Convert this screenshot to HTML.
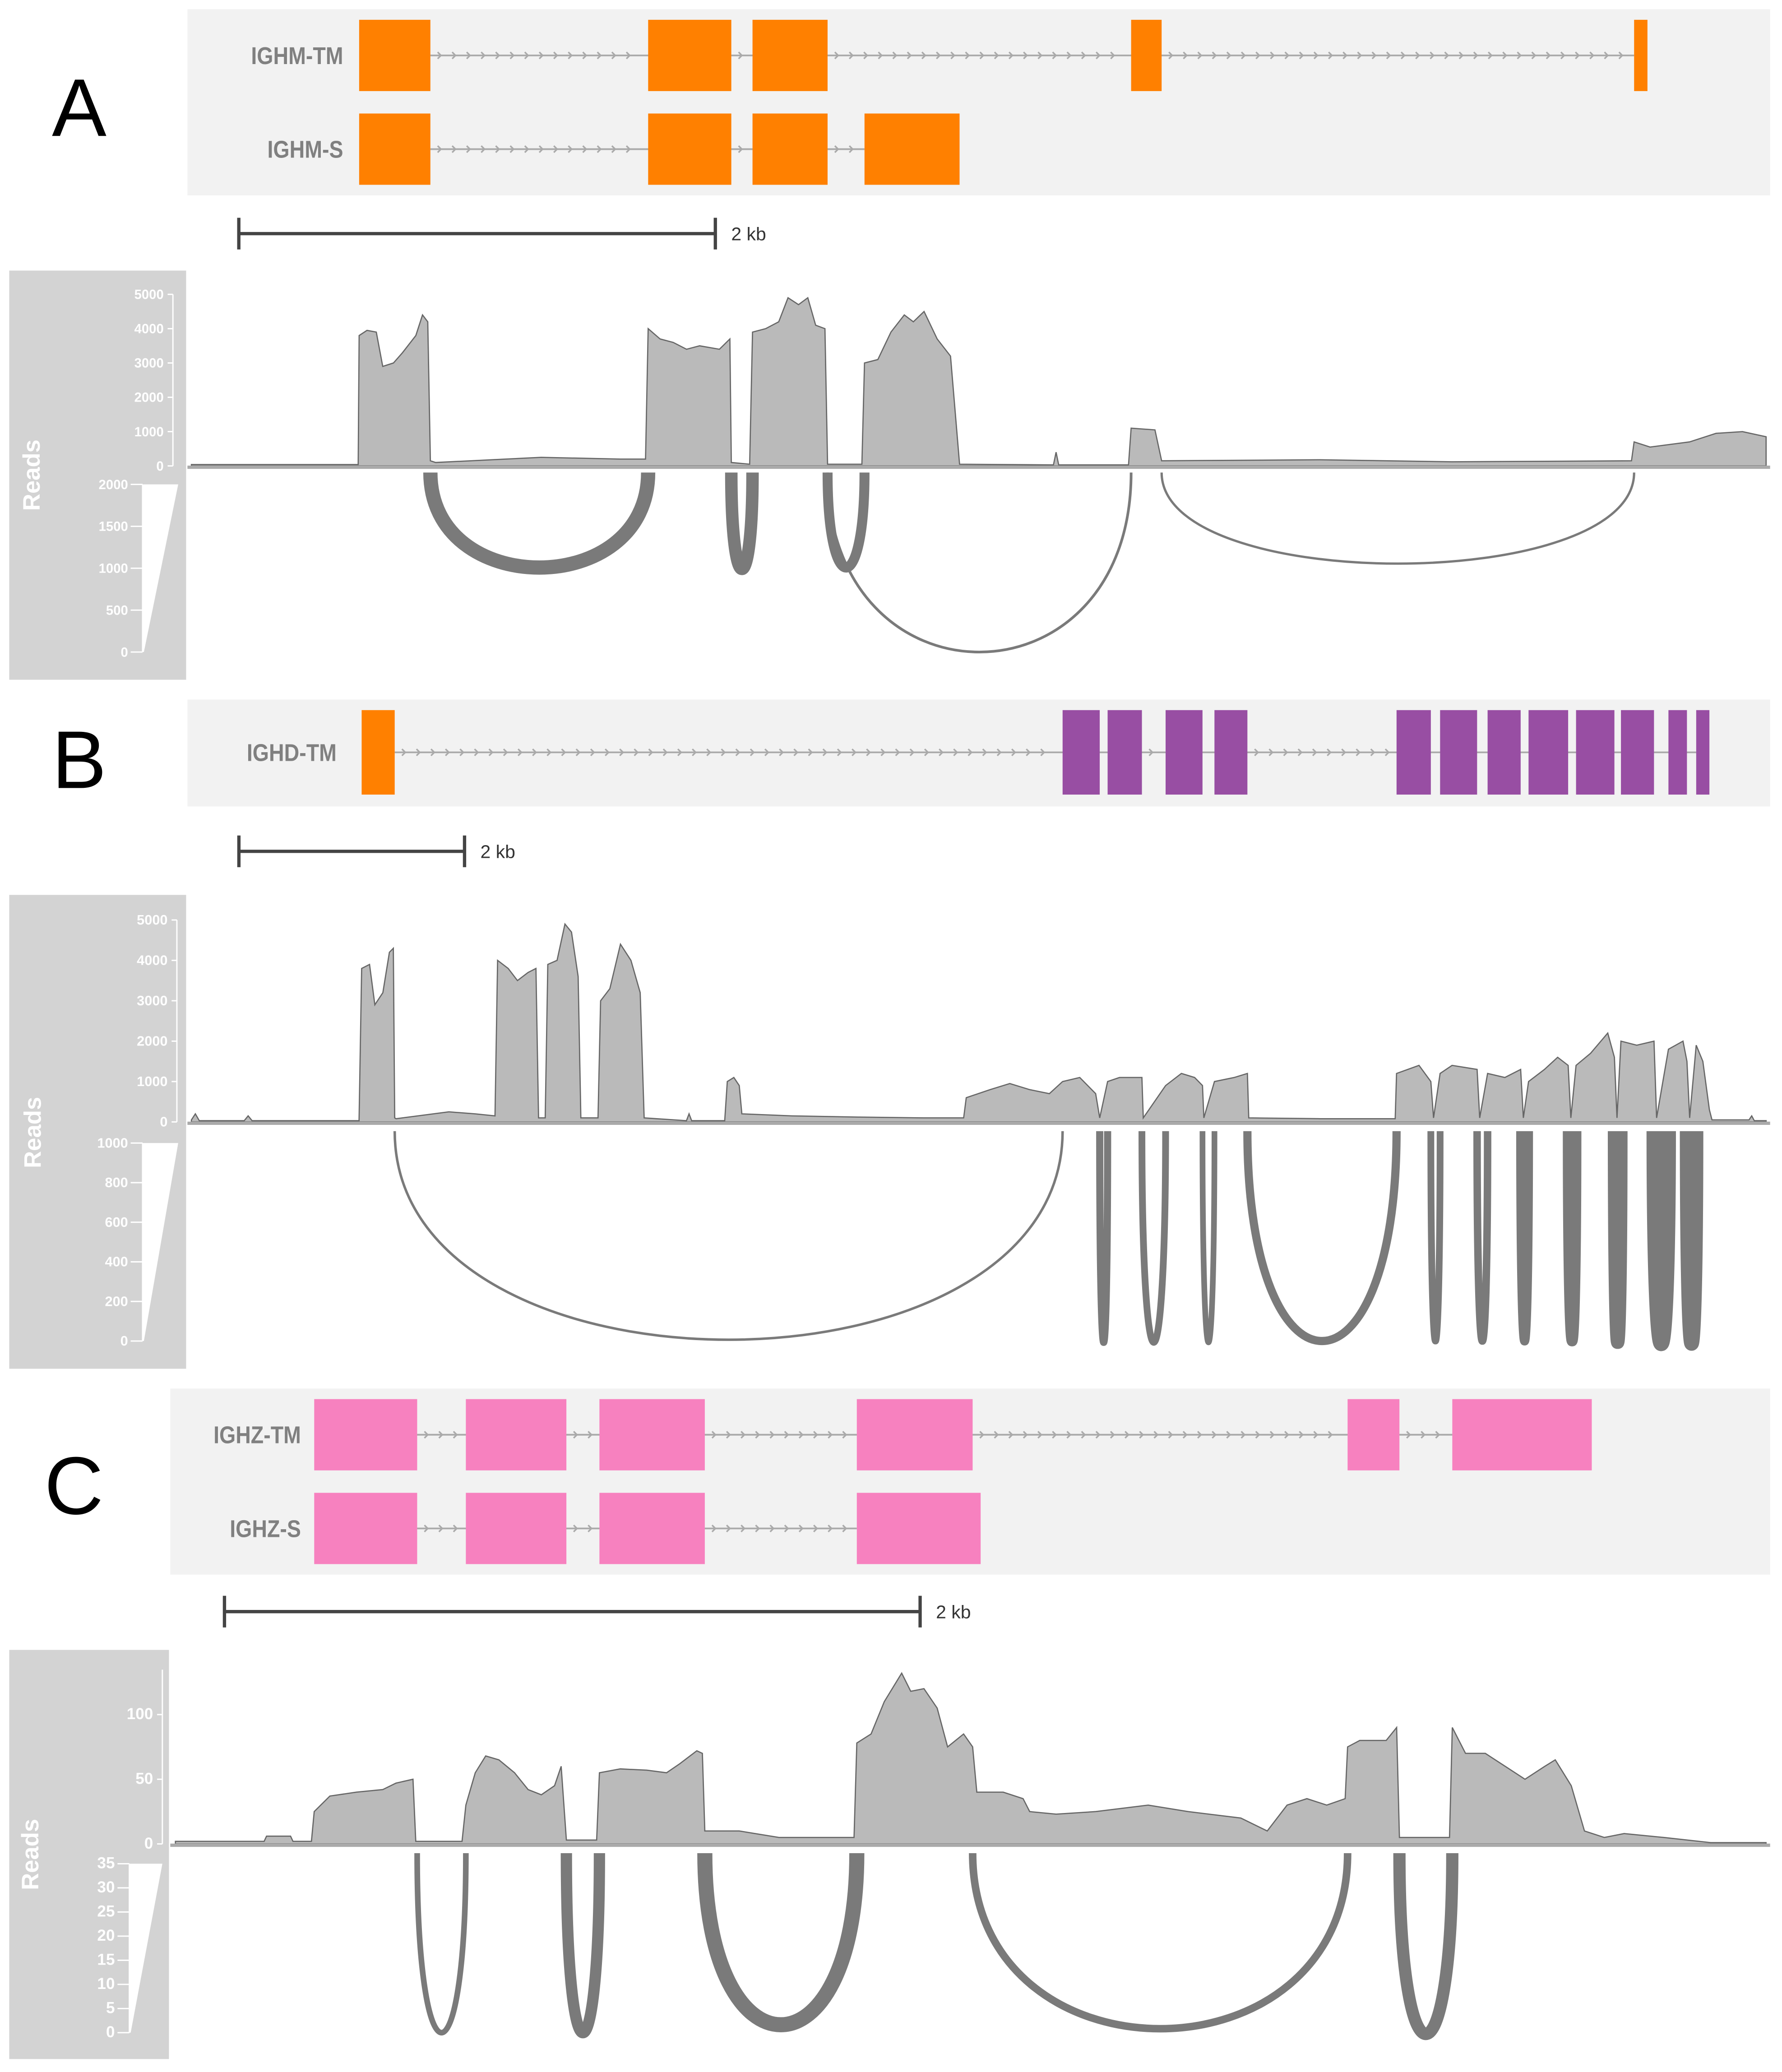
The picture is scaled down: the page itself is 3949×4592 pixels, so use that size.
<!DOCTYPE html>
<html><head><meta charset="utf-8"><style>
html,body{margin:0;padding:0;background:#fff;}
svg{display:block;}
text{font-family:"Liberation Sans",sans-serif;}
</style></head><body>
<svg id="fig" width="3949" height="4592" viewBox="0 0 1350 1569.8" preserveAspectRatio="none" xmlns="http://www.w3.org/2000/svg"></svg>
<script>
// ===== Panel A data (positions in bp from region start) =====
const aPos=[0,700,704,737,776,803,848,886,942,970,992,1003,1025,1468,1801,1906,1917,1967,2022,2078,2133,2216,2260,2266,2343,2355,2410,2465,2504,2548,2587,2620,2659,2670,2814,2825,2881,2936,2992,3030,3075,3130,3186,3224,3618,3629,3640,3933,3944,4044,4072,4737,5291,6044,6055,6122,6288,6399,6510,6609];
const aCov=[40,40,3800,3950,3900,2900,3000,3300,3800,4400,4200,150,100,250,200,200,4000,3700,3600,3400,3500,3400,3700,100,50,3900,4000,4200,4900,4700,4900,4100,4000,50,50,3000,3100,3900,4400,4200,4500,3700,3200,50,30,400,30,30,1100,1050,150,180,120,150,700,550,700,950,1000,850];
const aTMStart=[704,1917,2355,3944,6055];
const aTMEnd=[1003,2266,2670,4072,6111];
const aSStart=[704,1917,2355,2825];
const aSEnd=[1003,2266,2670,3224];
const aJStart=[1003,2266,2670,2670,4072];
const aJEnd=[1917,2355,2825,3944,6055];
const aJCount=[800,700,560,150,130];
const aJDepth=[72,73,72,136,69];
const aCovTicks=[0,1000,2000,3000,4000,5000];
const aJTicks=[0,500,1000,1500,2000];

// ===== Panel B data =====
const bPos=[0,35,70,468,503,538,1486,1509,1579,1626,1697,1755,1790,1802,1814,2282,2516,2691,2714,2808,2890,2984,3054,3077,3136,3159,3241,3311,3369,3428,3452,3604,3627,3709,3803,3896,3978,4013,4388,4411,4434,4727,4750,4808,4856,4879,5324,5909,6494,6845,6868,7079,7254,7430,7605,7722,7874,8015,8051,8121,8226,8425,8437,8635,8775,8892,8962,8974,9068,9243,9360,9372,10004,10670,10682,10881,10986,11010,11068,11174,11396,11419,11489,11642,11782,11806,11852,11993,12110,12203,12227,12273,12402,12554,12613,12636,12671,12811,12964,12987,13092,13221,13256,13280,13338,13397,13455,13478,13806,13830,13853,13958];
const bCov=[50,200,30,30,150,30,30,3800,3900,2900,3200,4200,4300,100,80,250,200,150,4000,3800,3500,3700,3800,100,100,3900,4000,4900,4700,3600,100,100,3000,3300,4400,4000,3200,100,30,200,30,30,1000,1100,900,200,150,120,100,100,600,800,950,800,700,1000,1100,700,100,1000,1100,1100,100,900,1200,1100,900,100,1000,1100,1200,100,80,80,1200,1400,1000,100,1200,1400,1300,100,1200,1100,1300,100,1000,1300,1600,1400,100,1400,1700,2200,1600,100,2000,1900,2000,100,1800,2000,1500,100,1900,1500,300,50,50,150,30,30];
const bTMStart=[1509,7722,8121,8635,9068,10682,11068,11489,11852,12273,12671,13092,13338];
const bTMEnd=[1802,8051,8425,8962,9360,10986,11396,11782,12203,12613,12964,13256,13455];
const bJStart=[1802,8051,8425,8962,9360,10986,11396,11782,12203,12613,12964,13256];
const bJEnd=[7722,8121,8635,9068,10682,11068,11489,11852,12273,12671,13092,13338];
const bJCount=[70,200,190,160,230,190,210,250,300,370,420,400];
const bJDepth=[158,160,160,160,159,159,159,159,159,160,161,161];
const bCovTicks=[0,1000,2000,3000,4000,5000];
const bJTicks=[0,200,400,600,800,1000];

// ===== Panel C data =====
const cPos=[11,171,266,273,342,349,402,410,455,531,607,645,694,702,835,846,873,903,941,986,1025,1063,1101,1120,1135,1222,1230,1290,1366,1423,1461,1510,1526,1533,1632,1746,1860,1962,1970,2011,2049,2099,2125,2163,2201,2231,2277,2303,2315,2391,2448,2467,2543,2657,2808,2922,3074,3150,3207,3264,3321,3374,3381,3416,3454,3492,3522,3530,3674,3682,3720,3777,3834,3891,3948,3978,4024,4062,4119,4176,4290,4425,4584];
const cCov=[2,2,2,6,6,2,2,25,37,40,42,47,50,2,2,30,55,68,65,55,42,38,45,60,3,3,55,58,57,55,62,72,70,10,10,5,5,5,78,85,110,132,118,120,105,75,85,75,40,40,35,25,23,25,30,25,20,10,30,35,30,35,75,80,80,80,90,5,5,90,70,70,60,50,60,65,45,10,5,8,5,1,1];
const cTMStart=[410,846,1230,1970,3381,3682];
const cTMEnd=[706,1135,1533,2303,3530,4083];
const cSStart=[410,846,1230,1970];
const cSEnd=[706,1135,1533,2326];
const cJStart=[706,1135,1533,2303,3530];
const cJEnd=[846,1230,1970,3381,3682];
const cJCount=[6,12,16,8,13];
const cJDepth=[136,136,130,133,137];
const cCovTicks=[0,50,100];
const cJTicks=[0,5,10,15,20,25,30,35];

const NS="http://www.w3.org/2000/svg";
const svg=document.getElementById('fig');
function mk(tag,attrs,parent,text){const e=document.createElementNS(NS,tag);for(const k in attrs)e.setAttribute(k,attrs[k]);if(text!==undefined)e.textContent=text;(parent||svg).appendChild(e);return e;}

function panel(cfg){
  const g=mk('g',{});
  
  
  const xs=bp=>cfg.x0+bp/cfg.bpPerPx;
  const L=mk('text',{x:cfg.letterX,y:cfg.letterY,'font-size':62,fill:'#000','text-anchor':'middle','font-family':'DejaVu Sans, Liberation Sans, sans-serif'},g,cfg.id);
  
  
  const gb=mk('rect',{x:cfg.box[0],y:cfg.box[1],width:cfg.box[2],height:cfg.box[3],fill:'#f2f2f2'},g);
  
  
  cfg.rows.forEach(r=>{
    const rg=mk('g',{},g);
    
    
    const cy=r.y+r.h/2;
    const lbl=mk('text',{x:cfg.labelX,y:cy+6.5,'font-size':18.5,'font-weight':'bold',fill:'#808080','text-anchor':'end',transform:`translate(${cfg.labelX} 0) scale(0.86 1) translate(${-cfg.labelX} 0)`},rg,r.label);
    
    
    const x1=xs(r.ends[0]),x2=xs(r.starts[r.starts.length-1]);
    const ln=mk('line',{x1:x1,x2:x2,y1:cy,y2:cy,stroke:'#aaaaaa','stroke-width':1.3},rg);
    
    
    for(let i=0;i<r.starts.length-1;i++){
      const a=xs(r.ends[i]),b=xs(r.starts[i+1]);
      for(let x=a+8;x<b-3;x+=11){
        const ch=mk('path',{d:`M${x-2.5} ${cy-2.5} L${x} ${cy} L${x-2.5} ${cy+2.5}`,stroke:'#aaaaaa','stroke-width':1.2,fill:'none'},rg);
        
        
      }
    }
    r.starts.forEach((s,i)=>{
      const ex=mk('rect',{x:xs(s),y:r.y,width:xs(r.ends[i])-xs(s),height:r.h,fill:(r.colors?r.colors[i]:cfg.color)},rg);
      
      
    });
  });
  const sb=mk('g',{},g);
  
  
  const sx1=xs(cfg.scale[0]),sx2=xs(cfg.scale[0]+cfg.scale[1]);
  mk('line',{x1:sx1,x2:sx2,y1:cfg.scaleY,y2:cfg.scaleY,stroke:'#444','stroke-width':2.5},sb);
  mk('line',{x1:sx1,x2:sx1,y1:cfg.scaleY-12,y2:cfg.scaleY+12,stroke:'#444','stroke-width':2.5},sb);
  mk('line',{x1:sx2,x2:sx2,y1:cfg.scaleY-12,y2:cfg.scaleY+12,stroke:'#444','stroke-width':2.5},sb);
  const st=mk('text',{x:sx2+12,y:cfg.scaleY+5,'font-size':14,fill:'#333','font-family':'DejaVu Sans, sans-serif'},sb,'2 kb');
  
  
  const sd=mk('rect',{x:cfg.side[0],y:cfg.side[1],width:cfg.side[2],height:cfg.side[3],fill:'#d3d3d3'},g);
  
  
  const rd=mk('text',{x:0,y:0,'font-size':18,'font-weight':'bold',fill:'#fff','text-anchor':'middle',transform:`translate(${cfg.readsX} ${cfg.readsY}) rotate(-90)`},g,'Reads');
  
  
  const ys=v=>cfg.base-(v/cfg.covMax)*(cfg.base-cfg.covTop);
  const ax=mk('g',{},g);
  
  
  mk('line',{x1:cfg.axisX,x2:cfg.axisX,y1:cfg.axisTop!==undefined?cfg.axisTop:ys(cfg.covTicks[cfg.covTicks.length-1]),y2:cfg.base,stroke:'#fff','stroke-width':1},ax);
  cfg.covTicks.forEach(t=>{
    mk('line',{x1:cfg.axisX-4,x2:cfg.axisX,y1:ys(t),y2:ys(t),stroke:'#fff','stroke-width':1},ax);
    const tl=mk('text',{x:cfg.axisX-7,y:ys(t)+3.5,'font-size':cfg.tickFont,'font-weight':'bold',fill:'#fff','text-anchor':'end'},ax,String(t));
    
    
  });
  let d=`M${xs(cfg.pos[0])} ${cfg.base}`;
  cfg.pos.forEach((p,i)=>{d+=` L${xs(p)} ${ys(cfg.cov[i])}`;});
  d+=` L${xs(cfg.pos[cfg.pos.length-1])} ${cfg.base} Z`;
  const ar=mk('path',{d:d,fill:'#bababa',stroke:'#666','stroke-width':0.9},g);
  
  
  const bl=mk('line',{x1:cfg.box[0],x2:cfg.box[0]+cfg.box[2],y1:cfg.base+1,y2:cfg.base+1,stroke:'#aaa','stroke-width':2.5},g);
  
  
  const jy=v=>cfg.jBottom-(v/cfg.jMax)*(cfg.jBottom-cfg.jTop);
  const jw=v=>v/cfg.jMax*(cfg.wedgeR-cfg.wedgeL);
  const jax=mk('g',{},g);
  
  
  mk('path',{d:`M${cfg.wedgeL} ${cfg.jTop} L${cfg.wedgeR} ${cfg.jTop} L${cfg.wedgeL+1} ${cfg.jBottom} L${cfg.wedgeL} ${cfg.jBottom} Z`,fill:'#fff'},jax);
  mk('line',{x1:cfg.wedgeL,x2:cfg.wedgeL,y1:cfg.jTop,y2:cfg.jBottom,stroke:'#fff','stroke-width':1},jax);
  cfg.jTicks.forEach(t=>{
    mk('line',{x1:cfg.wedgeL-9,x2:cfg.wedgeL,y1:jy(t),y2:jy(t),stroke:'#fff','stroke-width':1},jax);
    const tl=mk('text',{x:cfg.wedgeL-11,y:jy(t)+3.5,'font-size':cfg.tickFont,'font-weight':'bold',fill:'#fff','text-anchor':'end'},jax,String(t));
    
    
  });
  cfg.jS.forEach((s,i)=>{
    const x1=xs(s),x2=xs(cfg.jE[i]),y0=cfg.arcTop,h=cfg.jD[i]*4/3;
    const w=Math.max(1.6,jw(cfg.jC[i]));
    const a=mk('path',{d:`M${x1} ${y0} C${x1} ${y0+h} ${x2} ${y0+h} ${x2} ${y0}`,fill:'none',stroke:'#7a7a7a','stroke-width':w},g);
    
    
  });
}

panel({id:'A',x0:145,bpPerPx:5.54,letterX:60,letterY:103,box:[142,7,1199,141],labelX:260,color:'#ff8000',
  rows:[{label:'IGHM-TM',y:15,h:54,starts:aTMStart,ends:aTMEnd},{label:'IGHM-S',y:86,h:54,starts:aSStart,ends:aSEnd}],
  scale:[199,2000],scaleY:177,side:[7,205,134,310],readsX:30,readsY:360,axisX:131,tickFont:10,
  base:353,covTop:223,covMax:5000,covTicks:aCovTicks,pos:aPos,cov:aCov,
  jTop:367,jBottom:494,jMax:2000,jTicks:aJTicks,wedgeL:108,wedgeR:135,arcTop:358,
  jS:aJStart,jE:aJEnd,jC:aJCount,jD:aJDepth});
panel({id:'B',x0:145,bpPerPx:11.7,letterX:60,letterY:597,box:[142,530,1199,81],labelX:255,color:'#984ea3',
  rows:[{label:'IGHD-TM',y:538,h:64,starts:bTMStart,ends:bTMEnd,colors:bTMStart.map((s,i)=>i===0?'#ff8000':'#984ea3')}],
  scale:[421,2000],scaleY:645,side:[7,678,134,359],readsX:31,readsY:858,axisX:134,tickFont:10.5,
  base:850,covTop:697,covMax:5000,covTicks:bCovTicks,pos:bPos,cov:bCov,
  jTop:866,jBottom:1016,jMax:1000,jTicks:bJTicks,wedgeL:108,wedgeR:135,arcTop:857,
  jS:bJStart,jE:bJEnd,jC:bJCount,jD:bJDepth});
panel({id:'C',x0:130,bpPerPx:3.795,letterX:56,letterY:1147,box:[129,1052,1212,141],labelX:228,color:'#f781bf',
  rows:[{label:'IGHZ-TM',y:1060,h:54,starts:cTMStart,ends:cTMEnd},{label:'IGHZ-S',y:1131,h:54,starts:cSStart,ends:cSEnd}],
  scale:[152,2000],scaleY:1221,side:[7,1250,121,310],readsX:29,readsY:1405,axisX:123,axisTop:1265,tickFont:12,
  base:1397,covTop:1299,covMax:100,covTicks:cCovTicks,pos:cPos,cov:cCov,
  jTop:1412,jBottom:1540,jMax:35,jTicks:cJTicks,wedgeL:98,wedgeR:123,arcTop:1404,
  jS:cJStart,jE:cJEnd,jC:cJCount,jD:cJDepth});
</script>
</body></html>
